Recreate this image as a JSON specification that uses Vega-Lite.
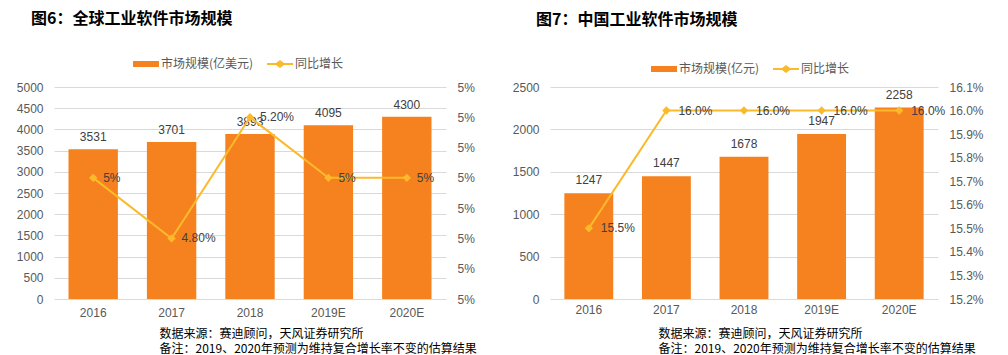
{
  "$schema": "https://vega.github.io/schema/vega-lite/v6.json",
  "background": "white",
  "padding": {"left": 16, "top": 11, "right": 10, "bottom": 2},
  "config": {
    "font": "Noto Sans CJK SC",
    "view": {"stroke": null},
    "axis": {"labelFont": "Liberation Sans, Noto Sans CJK SC", "labelFontSize": 12, "labelColor": "#595959", "domain": false, "ticks": false, "grid": false, "labelOverlap": false},
    "title": {"font": "Noto Sans CJK SC", "fontSize": 16, "fontWeight": "bold", "color": "#000000", "anchor": "start", "frame": "group"},
    "legend": {"orient": "none", "direction": "horizontal", "title": null, "labelFont": "Noto Sans CJK SC", "labelFontSize": 12, "labelColor": "#595959", "symbolSize": 400, "labelOffset": 5, "columnPadding": 13}
  },
  "bounds": "flush",
  "spacing": 104,
  "resolve": {"scale": {"color": "independent"}, "legend": {"color": "independent"}},
  "hconcat": [
    {
      "width": 392,
      "height": 212,
      "title": {"text": "图6：全球工业软件市场规模", "dx": -23, "offset": 27},
      "data": {"values": [
        {"year": "2016", "size": 3531, "growth": 0.05, "glabel": "5%"},
        {"year": "2017", "size": 3701, "growth": 0.048, "glabel": "4.80%"},
        {"year": "2018", "size": 3893, "growth": 0.052, "glabel": "5.20%"},
        {"year": "2019E", "size": 4095, "growth": 0.05, "glabel": "5%"},
        {"year": "2020E", "size": 4300, "growth": 0.05, "glabel": "5%"}
      ]},
      "encoding": {
        "x": {"field": "year", "type": "ordinal", "sort": null,
          "scale": {"paddingInner": 0.37, "paddingOuter": 0.185},
          "axis": {"labelAngle": 0, "labelPadding": 8,
            "title": ["数据来源：赛迪顾问，天风证券研究所", "备注：2019、2020年预测为维持复合增长率不变的估算结果"],
            "titleX": 105, "titleY": 29, "titleAlign": "left", "titleBaseline": "top", "titleFont": "Noto Sans CJK SC",
            "titleFontSize": 12, "titleFontWeight": "normal", "titleColor": "#000000", "titleLineHeight": 15}}
      },
      "layer": [
        {"encoding": {
           "y": {"field": "size", "type": "quantitative", "scale": {"domain": [0, 5000], "nice": false},
             "axis": {"values": [0, 500, 1000, 1500, 2000, 2500, 3000, 3500, 4000, 4500, 5000], "format": "d", "grid": true, "gridColor": "#d9d9d9", "labelPadding": 11, "title": null}}
         },
         "layer": [
          {"mark": {"type": "bar"},
           "encoding": {
             "color": {"datum": "市场规模(亿美元)", "type": "nominal",
               "scale": {"domain": ["市场规模(亿美元)", "同比增长"], "range": ["#F5821F", "#FBBA2B"]},
               "legend": {"legendX": 82, "legendY": -33,
                 "encode": {"symbols": {"update": {
                   "shape": {"signal": "datum.value === '同比增长' ? 'M-1.3,-0.1H-0.4L0,-0.4L0.4,-0.1H1.3V0.1H0.4L0,0.4L-0.4,0.1H-1.3Z' : 'M-1.3,-0.3H1.3V0.3H-1.3Z'"},
                   "fill": {"signal": "datum.value === '同比增长' ? '#FBBA2B' : '#F5821F'"},
                   "strokeWidth": {"value": 0},
                   "opacity": {"value": 1}
                 }}}}}
           }},
          {"mark": {"type": "text", "dy": -12, "fontSize": 12, "font": "Liberation Sans", "color": "#404040"},
           "encoding": {"text": {"field": "size", "type": "quantitative"}}}
        ]},
        {"encoding": {
           "y": {"field": "growth", "type": "quantitative", "scale": {"domain": [0.046, 0.053], "zero": false, "nice": false},
             "axis": {"orient": "right", "values": [0.046, 0.047, 0.048, 0.049, 0.05, 0.051, 0.052, 0.053], "format": ".0%", "labelPadding": 11, "title": null}}
         },
         "layer": [
          {"mark": {"type": "line", "strokeWidth": 2, "point": {"shape": "diamond", "filled": true, "size": 70}},
           "encoding": {"color": {"datum": "同比增长", "type": "nominal"}}},
          {"mark": {"type": "text", "align": "left", "dx": 10, "fontSize": 12, "font": "Liberation Sans", "color": "#404040"},
           "encoding": {"text": {"field": "glabel"}}}
        ]}
      ],
      "resolve": {"scale": {"y": "independent"}}
    },
    {
      "width": 388,
      "height": 212,
      "title": {"text": "图7：中国工业软件市场规模", "dx": -14, "offset": 31},
      "data": {"values": [
        {"year": "2016", "size": 1247, "growth": 0.155, "glabel": "15.5%"},
        {"year": "2017", "size": 1447, "growth": 0.16, "glabel": "16.0%"},
        {"year": "2018", "size": 1678, "growth": 0.16, "glabel": "16.0%"},
        {"year": "2019E", "size": 1947, "growth": 0.16, "glabel": "16.0%"},
        {"year": "2020E", "size": 2258, "growth": 0.16, "glabel": "16.0%"}
      ]},
      "encoding": {
        "x": {"field": "year", "type": "ordinal", "sort": null,
          "scale": {"paddingInner": 0.37, "paddingOuter": 0.185},
          "axis": {"labelAngle": 0, "labelPadding": 5,
            "title": ["数据来源：赛迪顾问，天风证券研究所", "备注：2019、2020年预测为维持复合增长率不变的估算结果"],
            "titleX": 108, "titleY": 29, "titleAlign": "left", "titleBaseline": "top", "titleFont": "Noto Sans CJK SC",
            "titleFontSize": 12, "titleFontWeight": "normal", "titleColor": "#000000", "titleLineHeight": 15}}
      },
      "layer": [
        {"encoding": {
           "y": {"field": "size", "type": "quantitative", "scale": {"domain": [0, 2500], "nice": false},
             "axis": {"values": [0, 500, 1000, 1500, 2000, 2500], "format": "d", "grid": true, "gridColor": "#d9d9d9", "labelPadding": 11, "title": null}}
         },
         "layer": [
          {"mark": {"type": "bar"},
           "encoding": {
             "color": {"datum": "市场规模(亿元)", "type": "nominal",
               "scale": {"domain": ["市场规模(亿元)", "同比增长"], "range": ["#F5821F", "#FBBA2B"]},
               "legend": {"legendX": 104, "legendY": -28,
                 "encode": {"symbols": {"update": {
                   "shape": {"signal": "datum.value === '同比增长' ? 'M-1.3,-0.1H-0.4L0,-0.4L0.4,-0.1H1.3V0.1H0.4L0,0.4L-0.4,0.1H-1.3Z' : 'M-1.3,-0.3H1.3V0.3H-1.3Z'"},
                   "fill": {"signal": "datum.value === '同比增长' ? '#FBBA2B' : '#F5821F'"},
                   "strokeWidth": {"value": 0},
                   "opacity": {"value": 1}
                 }}}}}
           }},
          {"mark": {"type": "text", "dy": -13, "fontSize": 12, "font": "Liberation Sans", "color": "#404040"},
           "encoding": {"text": {"field": "size", "type": "quantitative"}}}
        ]},
        {"encoding": {
           "y": {"field": "growth", "type": "quantitative", "scale": {"domain": [0.152, 0.161], "zero": false, "nice": false},
             "axis": {"orient": "right", "values": [0.152, 0.153, 0.154, 0.155, 0.156, 0.157, 0.158, 0.159, 0.16, 0.161], "format": ".1%", "labelPadding": 11, "title": null}}
         },
         "layer": [
          {"mark": {"type": "line", "strokeWidth": 2, "point": {"shape": "diamond", "filled": true, "size": 70}},
           "encoding": {"color": {"datum": "同比增长", "type": "nominal"}}},
          {"mark": {"type": "text", "align": "left", "dx": 12, "fontSize": 12, "font": "Liberation Sans", "color": "#404040"},
           "encoding": {"text": {"field": "glabel"}}}
        ]}
      ],
      "resolve": {"scale": {"y": "independent"}}
    }
  ]
}
